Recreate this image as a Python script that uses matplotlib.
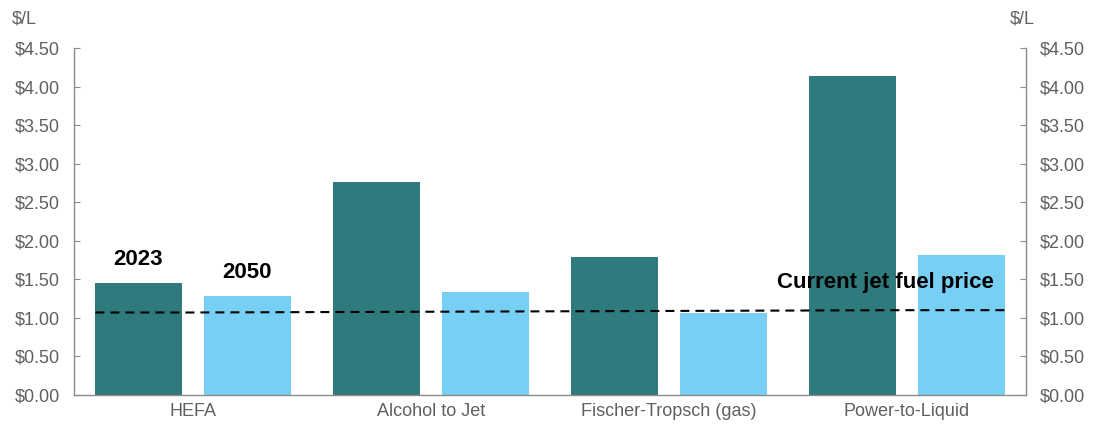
import matplotlib.pyplot as plt
import numpy as np

plt.rcParams["font.family"] = ["Liberation Sans", "DejaVu Sans"]

categories = ["HEFA", "Alcohol to Jet", "Fischer-Tropsch (gas)", "Power-to-Liquid"]
cost_2023 = [1.45, 2.76, 1.79, 4.14]
cost_2050 = [1.28, 1.34, 1.06, 1.82]
jet_price = [1.07, 1.08, 1.09, 1.10]
yticks = [0, 0.5, 1.0, 1.5, 2.0, 2.5, 3.0, 3.5, 4.0, 4.5]

DARK = "#2E7A7C"
LIGHT = "#77CFF3"
GREY = "#606060"
SPINE = "#8C8C8C"

fig = plt.figure(figsize=(10.93, 4.24), dpi=100)
ax = fig.add_axes([0.0677, 0.0684, 0.8710, 0.8184])

x = np.arange(len(categories))
w = 0.365
ax.bar(x - 0.229, cost_2023, w, color=DARK, label="2023")
ax.bar(x + 0.229, cost_2050, w, color=LIGHT, label="2050")

# jet fuel price line, stretched from first to last bar edge
lx = np.concatenate([[x[0] - 0.41], x, [x[-1] + 0.41]])
ly = np.concatenate([[jet_price[0]], jet_price, [jet_price[-1]]])
ax.plot(lx, ly, color="black", lw=1.5, ls=(0, (4.3, 2.9)))

ax.set_xlim(-0.5, 3.5)
ax.set_ylim(0, 4.5)
ax.set_yticks(yticks)
ax.set_yticklabels([f"${v:.2f}" for v in yticks])
ax.set_xticks(x, categories)
ax.tick_params(axis="x", length=0, colors=GREY, labelsize=13, pad=6)
ax.tick_params(axis="y", direction="in", length=4, color=SPINE,
               labelcolor=GREY, labelsize=13, pad=10)

ax2 = ax.twinx()
ax2.set_ylim(0, 4.5)
ax2.set_yticks(yticks)
ax2.set_yticklabels([f"${v:.2f}" for v in yticks])
ax2.tick_params(axis="y", direction="in", length=4, color=SPINE,
                labelcolor=GREY, labelsize=13, pad=10)

for a in (ax, ax2):
    a.spines["top"].set_visible(False)
    for s in ("left", "right", "bottom"):
        a.spines[s].set_color(SPINE)
        a.spines[s].set_linewidth(1.0)
ax.spines["right"].set_visible(False)
ax2.spines["left"].set_visible(False)
ax2.spines["bottom"].set_visible(False)

ax.text(x[0] - 0.229, cost_2023[0] + 0.17, "2023", ha="center", va="bottom",
        fontsize=16, fontweight="bold")
ax.text(x[0] + 0.229, cost_2050[0] + 0.17, "2050", ha="center", va="bottom",
        fontsize=16, fontweight="bold")
ax.text(2.91, jet_price[-1] + 0.22, "Current jet fuel price", ha="center",
        va="bottom", fontsize=16, fontweight="bold")

fig.text(0.011, 0.955, "$/L", color=GREY, fontsize=13, va="center")
fig.text(0.924, 0.955, "$/L", color=GREY, fontsize=13, va="center")

fig.savefig("out.png", dpi=100)
